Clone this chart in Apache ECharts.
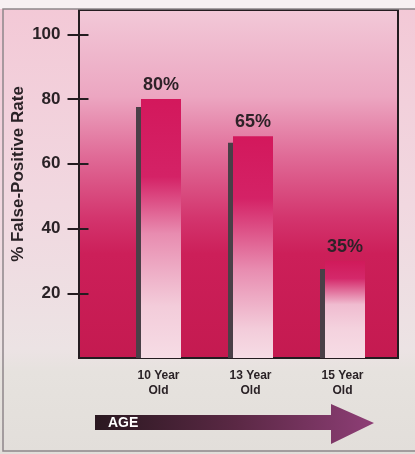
<!DOCTYPE html>
<html>
<head>
<meta charset="utf-8">
<script src="https://cdn.jsdelivr.net/npm/echarts@6/dist/echarts.min.js"></script>
<style>
html,body{margin:0;padding:0;background:#f4eef0;}
#c{width:415px;height:454px;}
</style>
</head>
<body>
<div id="c"></div>
<script>
// ---- data ----
var categories = ['10 Year\nOld', '13 Year\nOld', '15 Year\nOld'];
var barValues = [80, 68.5, 30];          // bar heights as drawn
var shadowValues = [77.5, 66.5, 27.5];   // dark side edges as drawn
var barLabels = ['80%', '65%', '35%'];   // printed labels
var yTicks = [20, 40, 60, 80, 100];
var yName = '% False-Positive Rate';
var arrowText = 'AGE';

// ---- styles ----
var FONT = '"Liberation Sans", Arial, sans-serif';
var fadeStops = [
  [[0, '#d3185c'], [0.3, '#d42266'], [0.52, '#e88cb0'], [0.8, '#f3ccda'], [1, '#f6dce5']],
  [[0, '#d3185c'], [0.28, '#d42266'], [0.6, '#e88cb0'], [0.87, '#f3ccda'], [1, '#f6dce5']],
  [[0, '#d01a5a'], [0.18, '#d4286a'], [0.45, '#f0bcd0'], [0.7, '#f4d2de'], [1, '#f6dce5']]
];
function grad(stops) {
  return new echarts.graphic.LinearGradient(0, 0, 0, 1,
    stops.map(function (s) { return { offset: s[0], color: s[1] }; }));
}

var chart = echarts.init(document.getElementById('c'), null, { renderer: 'canvas' });

var yCommon = {
  type: 'value', gridIndex: 1, position: 'left', min: 0, max: 107.5, interval: 20,
  offset: 33, splitLine: { show: false }, axisLine: { show: false }
};

var option = {
  animation: false,
  backgroundColor: new echarts.graphic.LinearGradient(0, 0, 0, 1, [
    { offset: 0, color: '#f3c8d6' },
    { offset: 0.45, color: '#f1d8e0' },
    { offset: 0.77, color: '#ece3e4' },
    { offset: 0.82, color: '#e6e2de' },
    { offset: 1, color: '#e2deda' }
  ]),
  graphic: [
    { type: 'rect', z: -1, shape: { x: 0, y: 0, width: 415, height: 9 }, style: { fill: '#f7f0f2' } },
    { type: 'rect', z: 100, shape: { x: 3, y: 9, width: 430, height: 442 },
      style: { fill: null, stroke: '#8e868b', lineWidth: 1.5 } },
    { type: 'polygon', z: 50,
      shape: { points: [[95, 415], [331, 415], [331, 404], [374, 423], [331, 444], [331, 430], [95, 430]] },
      style: { fill: new echarts.graphic.LinearGradient(0, 0, 1, 0, [
        { offset: 0, color: '#2a1820' }, { offset: 0.5, color: '#5a2844' }, { offset: 1, color: '#8e3e76' }
      ]) } },
    { type: 'text', z: 51, x: 108, y: 423,
      style: { text: arrowText, fill: '#ffffff', font: 'bold 14px ' + FONT, verticalAlign: 'middle', align: 'left' } }
  ],
  grid: [
    { left: 79, right: 17, top: 10, bottom: 96, show: true, borderColor: '#241c20', borderWidth: 2,
      outerBoundsMode: 'none', containLabel: false,
      backgroundColor: new echarts.graphic.LinearGradient(0, 0, 0, 1, [
        { offset: 0, color: '#f2c9d8' },
        { offset: 0.25, color: '#eca6c1' },
        { offset: 0.42, color: '#e06b97' },
        { offset: 0.6, color: '#d3346d' },
        { offset: 0.7, color: '#cc1f59' },
        { offset: 1, color: '#c41a50' }
      ]) },
    { left: 112.5, right: 26.5, top: 10, bottom: 96, outerBoundsMode: 'none', containLabel: false }
  ],
  xAxis: [
    { type: 'value', gridIndex: 0, show: false },
    { type: 'category', gridIndex: 1, data: categories,
      axisLine: { show: false }, axisTick: { show: false },
      axisLabel: { margin: 10.5, color: '#2a2226', fontFamily: FONT, fontWeight: 'bold', fontSize: 12, lineHeight: 15 } }
  ],
  yAxis: [
    { type: 'value', gridIndex: 0, show: false },
    Object.assign({}, yCommon, {
      name: yName, nameLocation: 'middle', nameRotate: 90, nameGap: 53, nameMoveOverlap: false,
      nameTextStyle: { color: '#2a2226', fontFamily: FONT, fontWeight: 'bold', fontSize: 17, padding: [0, 0, 0, 20] },
      axisTick: { show: true, length: 12, customValues: yTicks, lineStyle: { color: '#241c20', width: 2 } },
      axisLabel: { show: true, customValues: yTicks, margin: 19, color: '#2a2226', fontFamily: FONT, fontWeight: 'bold', fontSize: 17 }
    }),
    Object.assign({}, yCommon, {
      axisTick: { show: true, inside: true, length: 9, customValues: yTicks, lineStyle: { color: '#241c20', width: 2 } },
      axisLabel: { show: false }
    })
  ],
  series: [
    { type: 'bar', xAxisIndex: 1, yAxisIndex: 1, barWidth: 5, barGap: '0%',
      data: shadowValues, itemStyle: { color: '#4a3f47' }, z: 3 },
    { type: 'bar', xAxisIndex: 1, yAxisIndex: 1, barWidth: 40, barGap: '0%',
      data: barValues.map(function (v, i) {
        return { value: v, itemStyle: { color: grad(fadeStops[i]) } };
      }),
      label: { show: true, position: 'top', distance: 5,
        formatter: function (p) { return barLabels[p.dataIndex]; },
        color: '#2e2228', fontFamily: FONT, fontWeight: 'bold', fontSize: 18 },
      z: 4 }
  ]
};
chart.setOption(option);
</script>
</body>
</html>
